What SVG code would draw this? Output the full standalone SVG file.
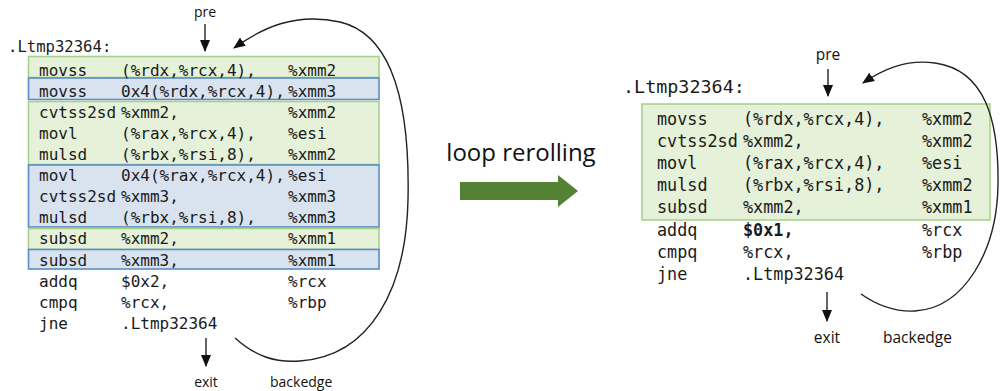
<svg xmlns="http://www.w3.org/2000/svg" width="1000" height="391" viewBox="0 0 1000 391">
  <style>
    .code { font-family: "DejaVu Sans Mono", "Liberation Mono", monospace; fill: #1a1a1a; }
    .codeL { font-size: 16px; }
    .codeR { font-size: 16.8px; }
    .lbl { font-family: "Open Sans", "Liberation Sans", sans-serif; fill: #111; }
    .grn { fill: #e5f1d8; stroke: #a9d18e; stroke-width: 1.6; }
    .blu { fill: #d9e3f0; stroke: #5b8cc6; stroke-width: 1.6; }
    .edge { fill: none; stroke: #222; stroke-width: 1.4; }
  </style>
  <defs>
    <marker id="ah" markerUnits="userSpaceOnUse" markerWidth="12" markerHeight="10" refX="11" refY="5" orient="auto">
      <path d="M0,0 L12,5 L0,10 Z" fill="#111"/>
    </marker>
  </defs>
  <rect width="1000" height="391" fill="#ffffff"/>

  <!-- original (unrolled) loop -->
  <g id="unrolled-loop">
    <text class="code" x="8" y="52" font-size="15.6">.Ltmp32364:</text>
    <rect class="grn" x="28.5" y="56.5" width="350.5" height="21"/>
    <rect class="blu" x="28.5" y="78" width="350.5" height="21.5"/>
    <rect class="grn" x="28.5" y="101.5" width="350.5" height="63"/>
    <rect class="blu" x="28.5" y="165" width="350.5" height="62"/>
    <rect class="grn" x="28.5" y="228.5" width="350.5" height="21"/>
    <rect class="blu" x="28.5" y="249.5" width="350.5" height="19.5"/>
    <g class="code codeL">
      <text x="39" y="76">movss</text><text x="121" y="76">(%rdx,%rcx,4),</text><text x="288" y="76">%xmm2</text>
      <text x="39" y="97">movss</text><text x="121" y="97">0x4(%rdx,%rcx,4),</text><text x="288" y="97">%xmm3</text>
      <text x="39" y="118">cvtss2sd</text><text x="121" y="118">%xmm2,</text><text x="288" y="118">%xmm2</text>
      <text x="39" y="139">movl</text><text x="121" y="139">(%rax,%rcx,4),</text><text x="288" y="139">%esi</text>
      <text x="39" y="160">mulsd</text><text x="121" y="160">(%rbx,%rsi,8),</text><text x="288" y="160">%xmm2</text>
      <text x="39" y="181">movl</text><text x="121" y="181">0x4(%rax,%rcx,4),</text><text x="288" y="181">%esi</text>
      <text x="39" y="202">cvtss2sd</text><text x="121" y="202">%xmm3,</text><text x="288" y="202">%xmm3</text>
      <text x="39" y="223">mulsd</text><text x="121" y="223">(%rbx,%rsi,8),</text><text x="288" y="223">%xmm3</text>
      <text x="39" y="244">subsd</text><text x="121" y="244">%xmm2,</text><text x="288" y="244">%xmm1</text>
      <text x="39" y="265.5">subsd</text><text x="121" y="265.5">%xmm3,</text><text x="288" y="265.5">%xmm1</text>
      <text x="39" y="287">addq</text><text x="121" y="287">$0x2,</text><text x="288" y="287">%rcx</text>
      <text x="39" y="308">cmpq</text><text x="121" y="308">%rcx,</text><text x="288" y="308">%rbp</text>
      <text x="39" y="329">jne</text><text x="121" y="329">.Ltmp32364</text>
    </g>
  </g>
  <g id="unrolled-labels" class="lbl" font-size="14">
    <text x="205" y="17" text-anchor="middle">pre</text>
    <text x="206" y="387" text-anchor="middle">exit</text>
    <text x="270" y="387">backedge</text>
  </g>

  <!-- transformation -->
  <g id="transform">
    <text class="lbl" x="521" y="161" font-size="24" text-anchor="middle">loop rerolling</text>
    <path d="M460,182 L558,182 L558,175 L578,191 L558,207 L558,200 L460,200 Z" fill="#548235"/>
  </g>

  <!-- rerolled loop -->
  <g id="rerolled-loop">
    <text class="code" x="623" y="93" font-size="18.4">.Ltmp32364:</text>
    <rect class="grn" x="642" y="104" width="348" height="116"/>
    <g class="code codeR">
      <text x="657" y="124.5">movss</text><text x="743" y="124.5">(%rdx,%rcx,4),</text><text x="922" y="124.5">%xmm2</text>
      <text x="657" y="146.5">cvtss2sd</text><text x="743" y="146.5">%xmm2,</text><text x="922" y="146.5">%xmm2</text>
      <text x="657" y="168.5">movl</text><text x="743" y="168.5">(%rax,%rcx,4),</text><text x="922" y="168.5">%esi</text>
      <text x="657" y="190.5">mulsd</text><text x="743" y="190.5">(%rbx,%rsi,8),</text><text x="922" y="190.5">%xmm2</text>
      <text x="657" y="212.5">subsd</text><text x="743" y="212.5">%xmm2,</text><text x="922" y="212.5">%xmm1</text>
      <text x="657" y="236">addq</text><text x="743" y="236" font-weight="bold">$0x1,</text><text x="922" y="236">%rcx</text>
      <text x="657" y="258">cmpq</text><text x="743" y="258">%rcx,</text><text x="922" y="258">%rbp</text>
      <text x="657" y="280">jne</text><text x="743" y="280">.Ltmp32364</text>
    </g>
  </g>
  <g id="rerolled-labels" class="lbl" font-size="15.5">
    <text x="828" y="60" text-anchor="middle">pre</text>
    <text x="827" y="343" text-anchor="middle">exit</text>
    <text x="883" y="343">backedge</text>
  </g>

  <!-- connectors -->
  <g id="connectors">
    <line class="edge" x1="205" y1="24" x2="205" y2="51" marker-end="url(#ah)"/>
    <line class="edge" x1="206" y1="338" x2="206" y2="366" marker-end="url(#ah)"/>
    <path class="edge" d="M235,338 C255,356 275,363 300,361 C370,356 406,290 408,200 C410,110 395,35 340,22 C295,12 262,28 234,48" marker-end="url(#ah)"/>
    <line class="edge" x1="828" y1="69" x2="828" y2="96" marker-end="url(#ah)"/>
    <line class="edge" x1="827" y1="292" x2="827" y2="321" marker-end="url(#ah)"/>
    <path class="edge" d="M861,294 C878,306 895,312 915,311 C965,308 997,250 998,185 C999,120 985,70 935,63 C905,59 882,70 863,83" marker-end="url(#ah)"/>
  </g>
</svg>
